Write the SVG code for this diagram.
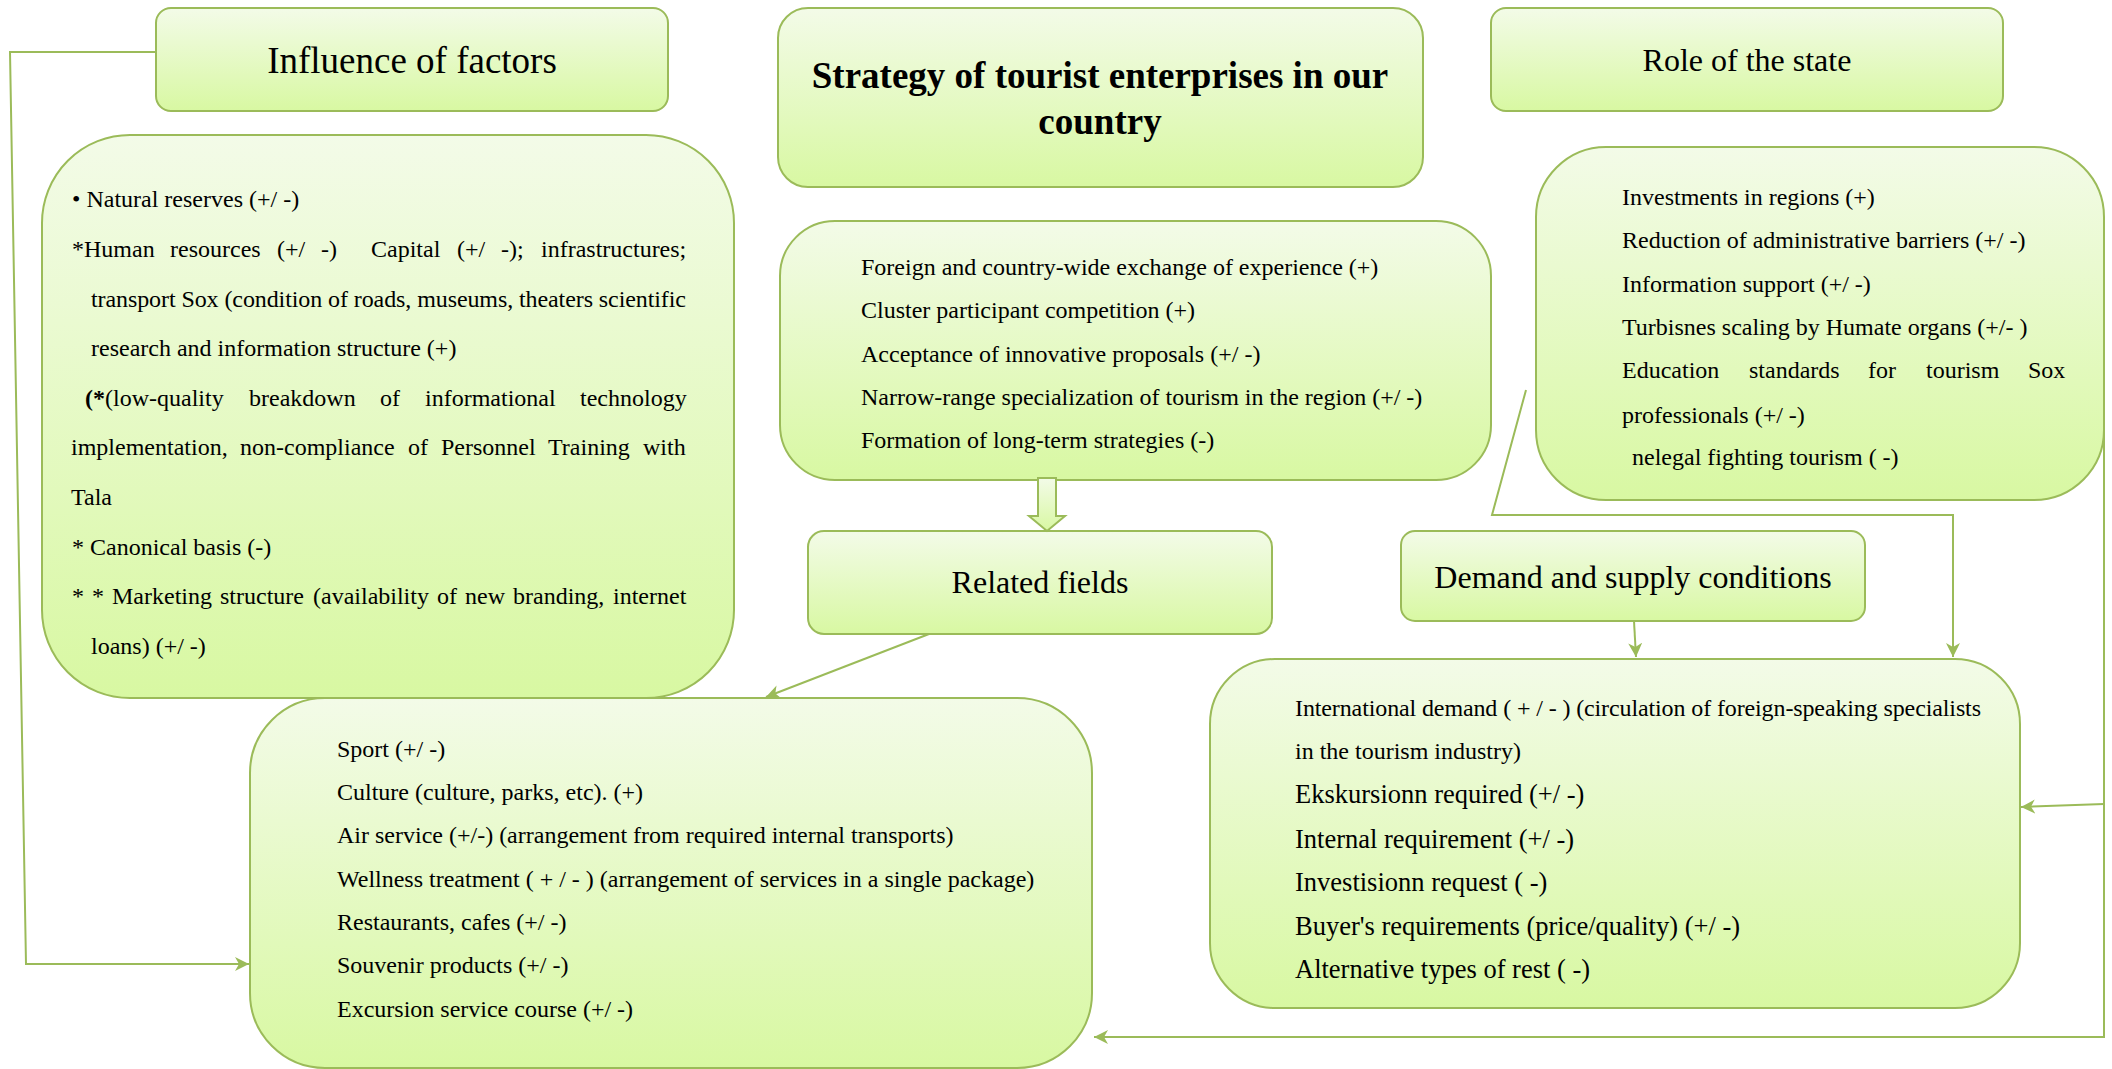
<svg xmlns="http://www.w3.org/2000/svg" width="2112" height="1069" viewBox="0 0 2112 1069">
<defs>
<linearGradient id="g" x1="0" y1="0" x2="0" y2="1">
<stop offset="0" stop-color="#f3fbe8"/>
<stop offset="1" stop-color="#d8f8a2"/>
</linearGradient>
<marker id="ah" markerUnits="userSpaceOnUse" markerWidth="16" markerHeight="16" refX="14" refY="7" orient="auto">
<path d="M0,0 L14,7 L0,14 L4,7 Z" fill="#9bbb59"/>
</marker>
<style>
.box{fill:url(#g);stroke:#9bbb59;stroke-width:2}
.t{font-family:"Liberation Serif","Times New Roman",serif;fill:#000}
.s24{font-size:24px}
.s26{font-size:26.5px}
.h{text-anchor:middle}
.c{fill:none;stroke:#9bbb59;stroke-width:2}
</style>
</defs>
<rect width="2112" height="1069" fill="#ffffff"/>

<g id="influence-header">
<rect class="box" x="156" y="8" width="512" height="103" rx="15"/>
<text class="t h" x="412" y="73" font-size="37">Influence of factors</text>
</g>

<g id="strategy-header">
<rect class="box" x="778" y="8" width="645" height="179" rx="30"/>
<text class="t h" x="1100" y="88" font-size="37" font-weight="bold">Strategy of tourist enterprises in our</text>
<text class="t h" x="1100" y="134" font-size="37" font-weight="bold">country</text>
</g>

<g id="role-header">
<rect class="box" x="1491" y="8" width="512" height="103" rx="15"/>
<text class="t h" x="1747" y="71" font-size="32">Role of the state</text>
</g>

<g id="influence-details">
<rect class="box" x="42" y="135" width="692" height="563" rx="88"/>
<text class="t s24" x="72" y="207">• Natural reserves (+/ -)</text>
<text class="t s24" y="257"><tspan x="72">*Human</tspan><tspan x="170">resources</tspan><tspan x="277">(+/</tspan><tspan x="321">-)</tspan><tspan x="371">Capital</tspan><tspan x="457">(+/</tspan><tspan x="501">-);</tspan><tspan x="541">infrastructures;</tspan></text>
<text class="t s24" x="91" y="307" textLength="595" lengthAdjust="spacing">transport Sox (condition of roads, museums, theaters scientific</text>
<text class="t s24" x="91" y="356">research and information structure (+)</text>
<text class="t s24" y="406"><tspan x="85" font-weight="bold">(*</tspan><tspan>(low-quality</tspan><tspan x="249">breakdown</tspan><tspan x="380">of</tspan><tspan x="425">informational</tspan><tspan x="580">technology</tspan></text>
<text class="t s24" y="455"><tspan x="71">implementation,</tspan><tspan x="240">non-compliance</tspan><tspan x="408">of</tspan><tspan x="441">Personnel</tspan><tspan x="548">Training</tspan><tspan x="643">with</tspan></text>
<text class="t s24" x="71" y="505">Tala</text>
<text class="t s24" x="72" y="555">* Canonical basis (-)</text>
<text class="t s24" y="604"><tspan x="72">*</tspan><tspan x="92">*</tspan><tspan x="112">Marketing</tspan><tspan x="220">structure</tspan><tspan x="313">(availability</tspan><tspan x="437">of</tspan><tspan x="465">new</tspan><tspan x="513">branding,</tspan><tspan x="613">internet</tspan></text>
<text class="t s24" x="91" y="654">loans) (+/ -)</text>
</g>

<g id="strategy-details">
<rect class="box" x="780" y="221" width="711" height="259" rx="55"/>
<text class="t s24" x="861" y="275">Foreign and country-wide exchange of experience (+)</text>
<text class="t s24" x="861" y="318">Cluster participant competition (+)</text>
<text class="t s24" x="861" y="362">Acceptance of innovative proposals (+/ -)</text>
<text class="t s24" x="861" y="405">Narrow-range specialization of tourism in the region (+/ -)</text>
<text class="t s24" x="861" y="448">Formation of long-term strategies (-)</text>
</g>

<g id="role-details">
<rect class="box" x="1536" y="147" width="568" height="353" rx="70"/>
<text class="t s24" x="1622" y="205">Investments in regions (+)</text>
<text class="t s24" x="1622" y="248">Reduction of administrative barriers (+/ -)</text>
<text class="t s24" x="1622" y="292">Information support (+/ -)</text>
<text class="t s24" x="1622" y="335">Turbisnes scaling by Humate organs (+/- )</text>
<text class="t s24" y="378"><tspan x="1622">Education</tspan><tspan x="1749">standards</tspan><tspan x="1868">for</tspan><tspan x="1926">tourism</tspan><tspan x="2028">Sox</tspan></text>
<text class="t s24" x="1622" y="423">professionals (+/ -)</text>
<text class="t s24" x="1632" y="465">nelegal fighting tourism ( -)</text>
</g>

<g id="related-fields">
<rect class="box" x="808" y="531" width="464" height="103" rx="16"/>
<text class="t h" x="1040" y="593" font-size="32">Related fields</text>
</g>

<g id="demand-supply">
<rect class="box" x="1401" y="531" width="464" height="90" rx="14"/>
<text class="t h" x="1633" y="588" font-size="32">Demand and supply conditions</text>
</g>

<g id="related-details">
<rect class="box" x="250" y="698" width="842" height="370" rx="75"/>
<text class="t s24" x="337" y="757">Sport (+/ -)</text>
<text class="t s24" x="337" y="800">Culture (culture, parks, etc). (+)</text>
<text class="t s24" x="337" y="843">Air service (+/-) (arrangement from required internal transports)</text>
<text class="t s24" x="337" y="887">Wellness treatment ( + / - ) (arrangement of services in a single package)</text>
<text class="t s24" x="337" y="930">Restaurants, cafes (+/ -)</text>
<text class="t s24" x="337" y="973">Souvenir products (+/ -)</text>
<text class="t s24" x="337" y="1017">Excursion service course (+/ -)</text>
</g>

<g id="demand-details">
<rect class="box" x="1210" y="659" width="810" height="349" rx="65"/>
<text class="t s24" x="1295" y="716" textLength="686" lengthAdjust="spacing">International demand ( + / - ) (circulation of foreign-speaking specialists</text>
<text class="t s24" x="1295" y="759">in the tourism industry)</text>
<text class="t s26" x="1295" y="803">Ekskursionn required (+/ -)</text>
<text class="t s26" x="1295" y="848">Internal requirement (+/ -)</text>
<text class="t s26" x="1295" y="891">Investisionn request ( -)</text>
<text class="t s26" x="1295" y="935">Buyer's requirements (price/quality) (+/ -)</text>
<text class="t s26" x="1295" y="978">Alternative types of rest ( -)</text>
</g>

<g id="connectors">
<path class="box" d="M1038,478 L1056,478 L1056,516 L1065,516 L1047,531 L1029,516 L1038,516 Z"/>
<path class="c" d="M156,52 L10,52 L26,964 L249,964" marker-end="url(#ah)"/>
<path class="c" d="M929,634 L766,697" marker-end="url(#ah)"/>
<path class="c" d="M1634,621 L1636,657" marker-end="url(#ah)"/>
<path class="c" d="M1526,390 L1492,515 L1953,515 L1953,657" marker-end="url(#ah)"/>
<path class="c" d="M2104,374 L2104,1037 L1094,1037" marker-end="url(#ah)"/>
<path class="c" d="M2104,804 L2021,807" marker-end="url(#ah)"/>
</g>
</svg>
